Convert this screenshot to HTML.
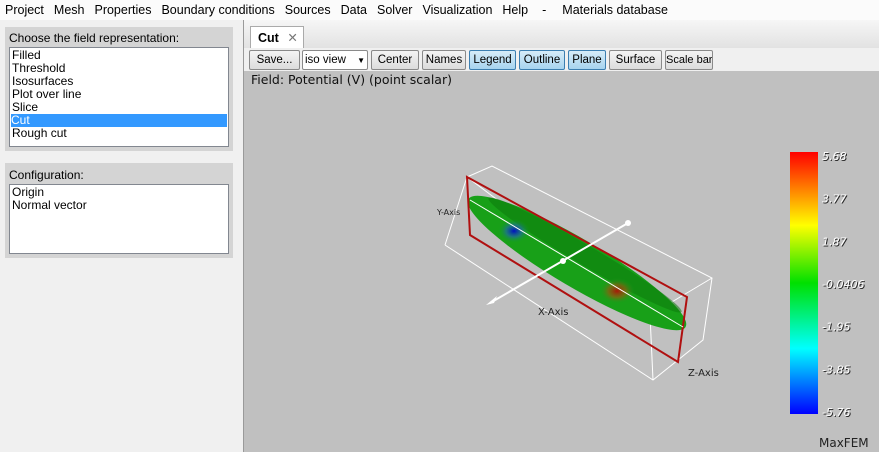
<!DOCTYPE html>
<html><head><meta charset="utf-8"><style>
*{box-sizing:border-box;margin:0;padding:0}
body{width:879px;height:452px;overflow:hidden;background:#f0f0f0;font-family:"Liberation Sans",sans-serif;font-size:12px;color:#000;position:relative}
.abs{position:absolute}
.menu span{margin-right:10px}
.grp{position:absolute;background:#d4d4d4}
.list{position:absolute;background:#fff;border:1px solid #828790;line-height:13px;padding:1px 2px}
.btn{position:absolute;top:50px;height:20px;border:1px solid #8a8a8a;border-radius:2px;background:linear-gradient(#f4f4f4,#dcdcdc);font-size:11.5px;line-height:18px;text-align:center;white-space:nowrap;overflow:hidden}
.on{background:linear-gradient(#d6ecf8,#a7d4ef);border-color:#3c7fb1}
.cb{fill:#fff;font-style:italic;font-size:11px;font-family:"DejaVu Sans",sans-serif}
.cbs{fill:#222;font-style:italic;font-size:11px;font-family:"DejaVu Sans",sans-serif}
</style></head><body>
<div class="abs menu" style="left:0;top:0;width:879px;height:20px;background:#fbfbfb;padding:3px 0 0 5px;font-size:12.5px;white-space:nowrap">
<span>Project</span><span>Mesh</span><span>Properties</span><span>Boundary conditions</span><span>Sources</span><span>Data</span><span>Solver</span><span>Visualization</span><span>Help</span><span style="margin-right:16px;margin-left:4px">-</span><span>Materials database</span></div>

<div class="grp" style="left:5px;top:27px;width:228px;height:124px"><div style="position:absolute;left:4px;top:4px">Choose the field representation:</div></div>
<div class="list" style="left:9px;top:47px;width:220px;height:100px">
<div>Filled</div><div>Threshold</div><div>Isosurfaces</div><div>Plot over line</div><div>Slice</div><div style="background:#3399ff;color:#fff;margin:0 -1px">Cut</div><div>Rough cut</div></div>
<div class="grp" style="left:5px;top:163px;width:228px;height:95px"><div style="position:absolute;left:4px;top:5px">Configuration:</div></div>
<div class="list" style="left:9px;top:184px;width:220px;height:70px">
<div>Origin</div><div>Normal vector</div></div>

<div class="abs" style="left:243px;top:20px;width:636px;height:432px;border-left:1px solid #9a9a9a;background:linear-gradient(#f6f6f6,#e2e2e2 28px,#f0f0f0 28px)"></div>
<div class="abs" style="left:250px;top:26px;width:54px;height:22px;background:#fff;border:1px solid #aaa;border-bottom:none;font-weight:bold;font-size:12.5px;padding:3px 0 0 7px">Cut <span style="font-weight:normal;color:#777;margin-left:5px">✕</span></div>
<div class="btn" style="left:249px;width:51px">Save...</div>
<div class="btn" style="left:302px;width:66px;text-align:left;padding-left:2px;background:#fff">iso view <span style="font-size:8px;margin-left:8px">▼</span></div>
<div class="btn" style="left:371px;width:48px">Center</div>
<div class="btn" style="left:422px;width:44px">Names</div>
<div class="btn on" style="left:469px;width:47px">Legend</div>
<div class="btn on" style="left:519px;width:46px">Outline</div>
<div class="btn on" style="left:568px;width:38px">Plane</div>
<div class="btn" style="left:609px;width:53px">Surface</div>
<div class="btn" style="left:665px;width:48px;font-size:11px">Scale bar</div>

<div class="abs" style="left:244px;top:71px;width:635px;height:381px;background:#c0c0c0"></div>
<div class="abs" style="left:251px;top:72px;font-family:'DejaVu Sans',sans-serif;font-size:12.5px;color:#111">Field: Potential (V) (point scalar)</div>

<svg class="abs" style="left:0;top:0" width="879" height="452">
<defs>
<radialGradient id="bl"><stop offset="0" stop-color="#0010c0"/><stop offset=".5" stop-color="#1e6aa0" stop-opacity=".7"/><stop offset="1" stop-color="#10a020" stop-opacity="0"/></radialGradient>
<radialGradient id="rd"><stop offset="0" stop-color="#a81808"/><stop offset=".5" stop-color="#8a6010" stop-opacity=".7"/><stop offset="1" stop-color="#10a020" stop-opacity="0"/></radialGradient>
<linearGradient id="cbg" x1="0" y1="1" x2="0" y2="0"><stop offset="0" stop-color="#0000ff"/><stop offset=".25" stop-color="#00ffff"/><stop offset=".5" stop-color="#00e000"/><stop offset=".72" stop-color="#ffff00"/><stop offset="1" stop-color="#ff0000"/></linearGradient>
</defs>
<g stroke="#fff" stroke-width="1" fill="none">
<polyline points="445,245 467,177 492,166 712,278 703,340 653,380 445,245"/>
<line x1="467" y1="177" x2="650" y2="315"/><line x1="650" y1="315" x2="712" y2="278"/><line x1="650" y1="315" x2="653" y2="380"/>
</g>
<g>
<ellipse cx="577" cy="263" rx="126" ry="24" transform="rotate(30.5 577 263)" fill="#18a018"/>
<ellipse cx="585" cy="255" rx="112" ry="10" transform="rotate(30.5 585 255)" fill="#0d7a0d" opacity=".55"/>
<ellipse cx="514" cy="231" rx="16" ry="12" fill="url(#bl)"/>
<ellipse cx="617" cy="291" rx="18" ry="13" fill="url(#rd)"/>
</g>
<polygon points="467,177 470,235 678,362 687,297" fill="none" stroke="#b01010" stroke-width="2"/>
<g stroke="#fff" stroke-width="2"><line x1="490" y1="303" x2="628" y2="223"/><line x1="470" y1="200" x2="683" y2="327" stroke-width="1"/></g>
<circle cx="563" cy="261" r="3" fill="#fff"/><circle cx="628" cy="223" r="3" fill="#fff"/><polygon points="486,305 497,296 494,303" fill="#fff"/>
<g font-family="DejaVu Sans,sans-serif" font-size="10" fill="#222">
<text x="538" y="315">X-Axis</text>
<text x="688" y="376">Z-Axis</text>
<text x="437" y="215" font-size="8">Y-Axis</text>
</g>
<rect x="790" y="152" width="28" height="262" fill="url(#cbg)"/>
<g id="cbl"></g>
<text x="819" y="447" font-family="DejaVu Sans,sans-serif" font-size="12" fill="#222">MaxFEM</text>
</svg>
<script>
const tickLabels=["5.68","3.77","1.87","-0.0406","-1.95","-3.85","-5.76"];
const tickValues=[5.68,3.77,1.87,-0.0406,-1.95,-3.85,-5.76];
const vmin=-5.76,vmax=5.68,top0=158,bot0=414;
function yScale(v){return bot0-(v-vmin)/(vmax-vmin)*(bot0-top0);}
const g=document.getElementById('cbl');
tickValues.forEach((v,i)=>{
 const s=document.createElementNS('http://www.w3.org/2000/svg','text');
 s.setAttribute('x',823);s.setAttribute('y',yScale(v)+3);
 s.setAttribute('class','cbs');
 s.textContent=tickLabels[i];g.appendChild(s);
 const t=document.createElementNS('http://www.w3.org/2000/svg','text');
 
 
 t.setAttribute('x',822);t.setAttribute('y',yScale(v)+2);
 t.setAttribute('class','cb');
 t.textContent=tickLabels[i];g.appendChild(t);
});
</script>
</body></html>
